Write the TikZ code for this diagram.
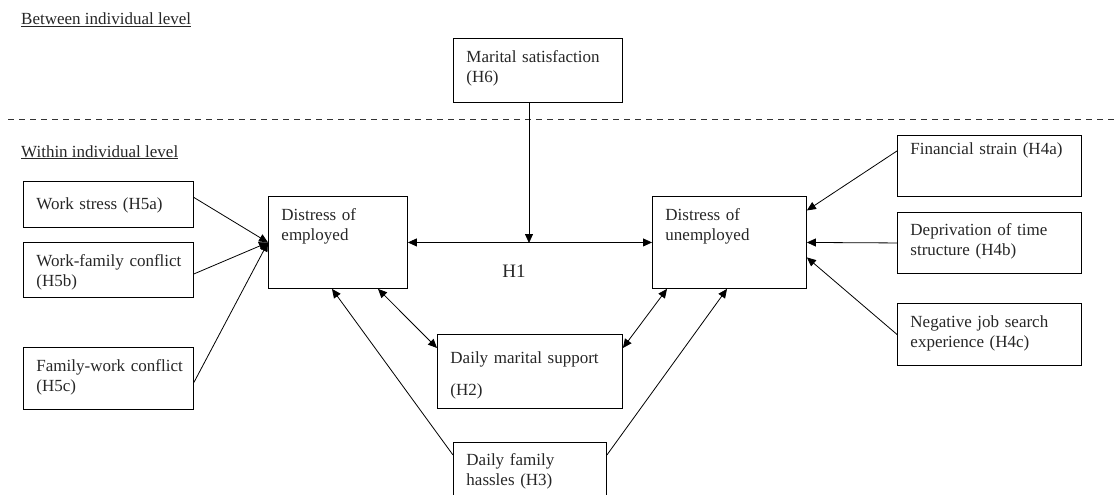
\documentclass[tikz,border=0pt]{standalone}
\usepackage{fontspec}
\setmainfont{Liberation Serif}
\usetikzlibrary{arrows.meta}
\tikzset{
	var/.style={rectangle, draw=black, line width=0.9pt, anchor=north west, align=left, inner xsep=13pt, inner ysep=0pt, text height=24pt, font=\fontsize{17}{20}\selectfont, text=black!85},
	level/.style={anchor=base west, inner sep=0pt, font=\fontsize{17}{20}\selectfont, text=black!85},
	sep/.style={dash pattern=on 6pt off 5pt, line width=0.8pt, draw=black!80},
	arrow/.style={-{Triangle[length=9pt, width=8pt]}, line width=0.8pt},
	dblarrow/.style={{Triangle[length=9pt, width=8pt]}-{Triangle[length=9pt, width=8pt]}, line width=0.8pt},
}

\begin{document}
\begin{tikzpicture}[x=1pt, y=-1pt]
	\useasboundingbox (0,0) rectangle (1114,495);
	% levels
	\node[level] (between) at (21,25) {\underline{Between individual level}};
	\node[level] (within) at (21,157) {\underline{Within individual level}};
	\draw[sep] (8,119) -- (1114,119);
	% variables
	\node[var, text width=143pt, text depth=40pt] (ms) at (453,38) {Marital satisfaction\\(H6)};
	\node[var, text width=113pt, text depth=68pt] (emp) at (268,196) {Distress of\\employed};
	\node[var, text width=128pt, text depth=68pt] (unemp) at (652,196) {Distress of\\unemployed};
	\node[var, text width=144pt, text height=28pt, text depth=18pt] (ws) at (23,181) {Work stress (H5a)};
	\node[var, text width=144pt, text depth=31pt] (wf) at (23,242) {\mbox{Work-family conflict}\\(H5b)};
	\node[var, text width=144pt, text depth=38pt] (fw) at (23,347) {\mbox{Family-work conflict}\\(H5c)};
	\node[var, text width=158pt, text height=19pt, text depth=42pt] (fs) at (897,135) {Financial strain (H4a)};
	\node[var, text width=158pt, text height=23pt, text depth=38pt] (dt) at (897,212) {Deprivation of time\\structure (H4b)};
	\node[var, text width=158pt, text depth=38pt] (nj) at (897,303) {Negative job search\\experience (H4c)};
	\node[var, text width=159pt, text height=29pt, text depth=45pt] (dms) at (437,334) {Daily marital support\\[12pt](H2)};
	\node[var, text width=127pt, text height=23pt, text depth=40pt] (dfh) at (453,442) {Daily family\\hassles (H3)};
	% H1 and moderation
	\coordinate (h1) at (529,243);
	\draw[dblarrow] (emp) -- (unemp);
	\draw[arrow] (ms.south -| h1) -- (h1);
	\node[font=\fontsize{19}{22}\selectfont, text=black!85] (h1lab) at (514,271) {H1};
	% predictors
	\draw[arrow] ([yshift=7pt]ws.east) -- (emp.west);
	\draw[arrow] ([yshift=-4pt]wf.east) -- (emp.west);
	\draw[arrow] ([yshift=-4pt]fw.east) -- (emp.west);
	\draw[arrow] ([yshift=15pt]fs.west) -- ([yshift=32pt]unemp.east);
	\draw[arrow] (dt.west) -- (unemp.east);
	\draw[arrow] (nj.west) -- ([yshift=-15pt]unemp.east);
	\draw[dblarrow] ([xshift=110pt]emp.south west) -- ([yshift=-14pt]dms.north west);
	\draw[dblarrow] ([xshift=15pt]unemp.south west) -- ([yshift=-14pt]dms.north east);
	\draw[arrow] ([yshift=-13pt]dfh.north west) -- ([xshift=64pt]emp.south west);
	\draw[arrow] ([yshift=-13pt]dfh.north east) -- ([xshift=75pt]unemp.south west);
\end{tikzpicture}
\end{document}
